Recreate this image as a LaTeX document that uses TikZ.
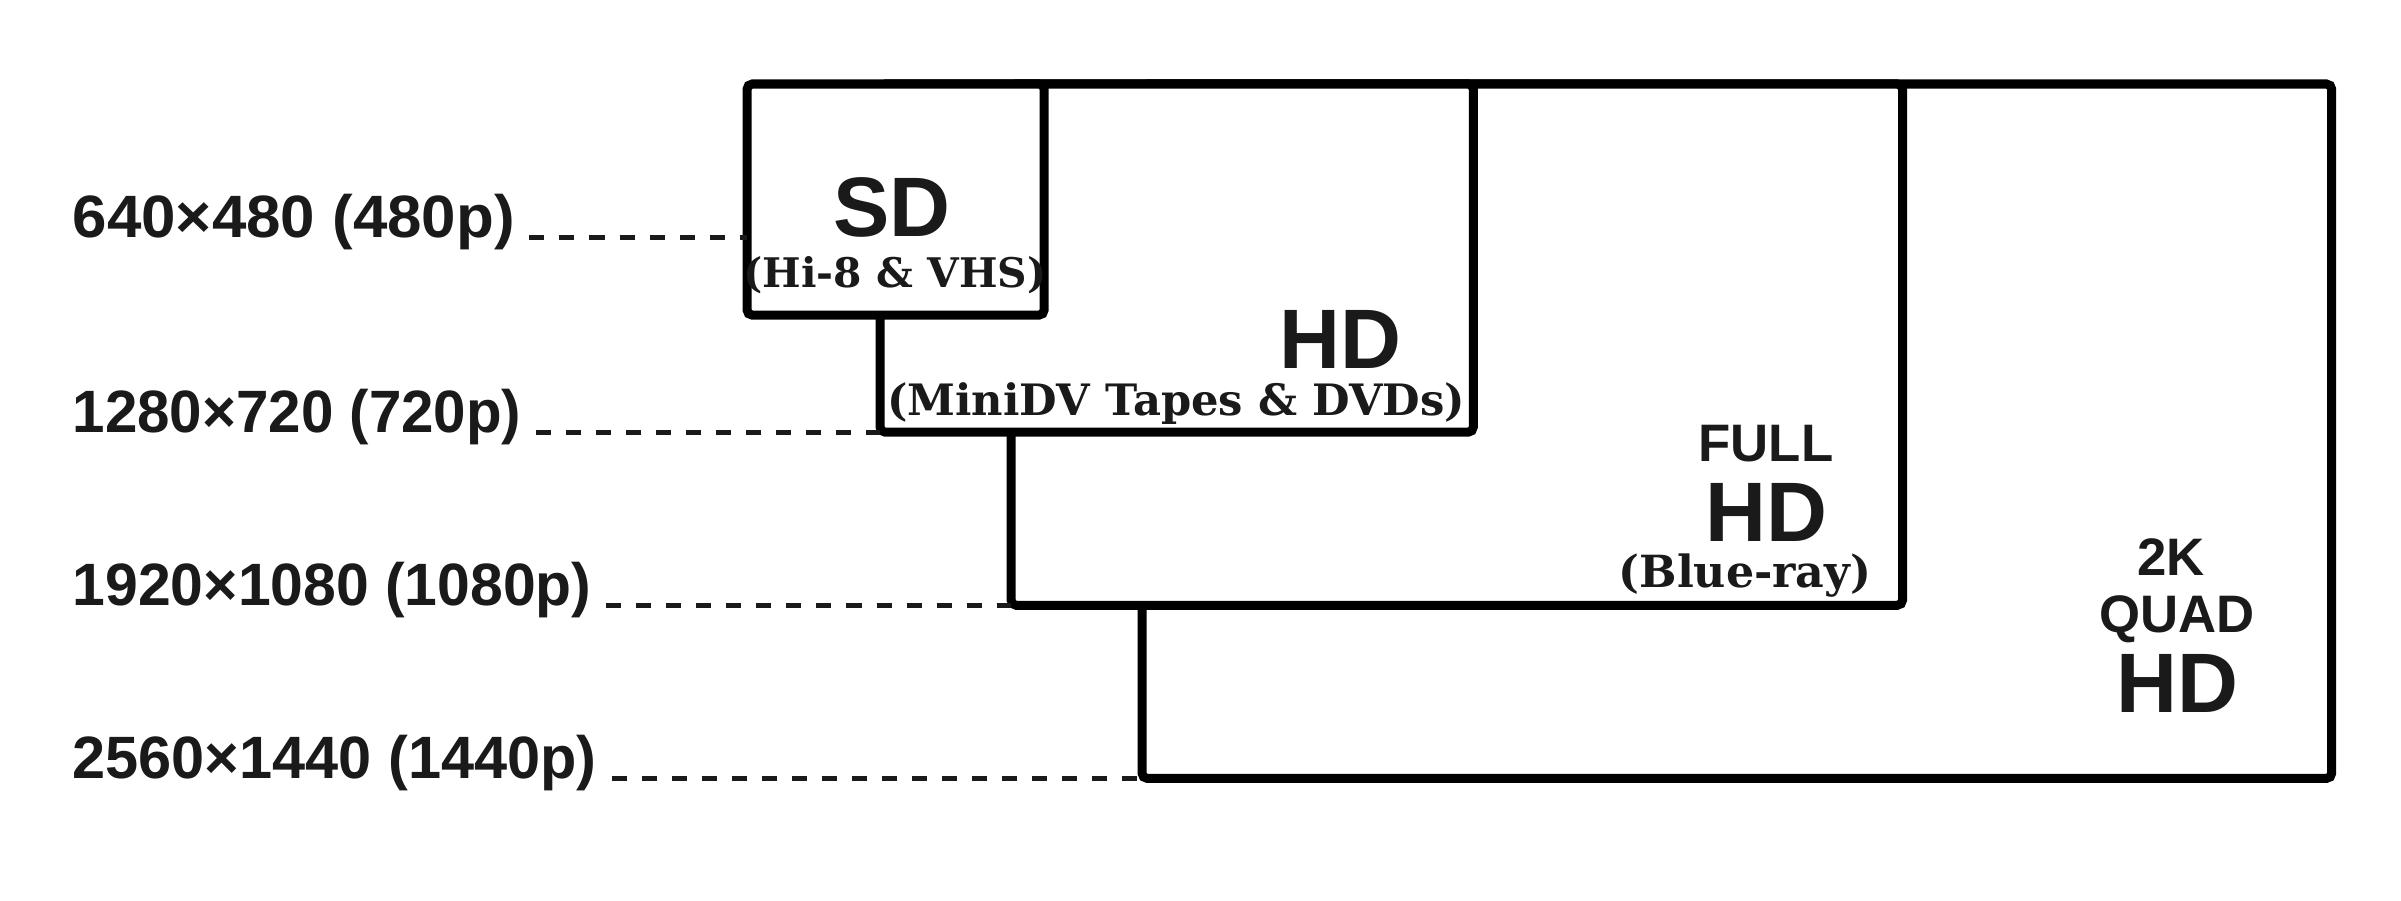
\documentclass[tikz,border=0pt]{standalone}
\usepackage{fontspec}
\newfontfamily\hdfont{Liberation Sans}
\newfontfamily\subfont{DejaVu Serif}
\definecolor{ink}{HTML}{1A1A1A}
\tikzset{
  res/.style={draw=black, line width=0.09cm, fill=white, inner sep=0pt, outer sep=0pt, anchor=north west, rounded corners=1.5pt},
  lab/.style={anchor=base west, inner sep=0pt, text=ink, font=\hdfont\bfseries\fontsize{17pt}{20pt}\selectfont},
  big/.style={anchor=base, inner sep=0pt, text=ink, font=\hdfont\bfseries\fontsize{24pt}{28pt}\selectfont},
  mid/.style={anchor=base, inner sep=0pt, text=ink, font=\hdfont\bfseries\fontsize{15pt}{18pt}\selectfont},
  sub/.style={anchor=base, inner sep=0pt, text=ink, font=\subfont\bfseries\fontsize{#1}{14pt}\selectfont},
  sub/.default=12pt,
  dashline/.style={draw=ink, line width=0.05cm, dash pattern=on 0.15cm off 0.15cm}
}
\begin{document}
\begin{tikzpicture}[x=0.01cm,y=-0.01cm]
\useasboundingbox (0,0) rectangle (2401,900);
% resolution boxes, largest first so smaller ones hide inner edges
\node[res, minimum width=11.89cm, minimum height=6.94cm] (qhd) at (1142,84) {};
\node[res, minimum width=8.91cm, minimum height=5.21cm] (fhd) at (1011,84) {};
\node[res, minimum width=5.93cm, minimum height=3.48cm] (hd) at (880,84) {};
\node[res, minimum width=2.97cm, minimum height=2.31cm] (sd) at (747,84) {};
% box titles
\node[big] (sdt) at (892,236) {SD};
\node[sub=11.6pt] (sds) at (895,287) {(Hi-8 \& VHS)};
\node[big] (hdt) at (1340,368) {HD};
\node[sub=12.3pt] (hds) at (1176,415) {(MiniDV Tapes \& DVDs)};
\node[mid] (fhdf) at (1766,461) {FULL};
\node[big] (fhdt) at (1766,541) {HD};
\node[sub=12.6pt] (fhds) at (1745,587) {(Blue-ray)};
\node[mid] (qk) at (2171,575) {2K};
\node[mid] (qq) at (2177,632) {QUAD};
\node[big] (qt) at (2177,712) {HD};
% left labels
\node[lab] (l1) at (72,237) {\scalebox{1.035}[1]{640×480 (480p)}};
\node[lab] (l2) at (72,432) {\scalebox{0.975}[1]{1280×720 (720p)}};
\node[lab] (l3) at (72,605) {\scalebox{0.985}[1]{1920×1080 (1080p)}};
\node[lab] (l4) at (72,778) {\scalebox{0.995}[1]{2560×1440 (1440p)}};
% dashed leaders
\draw[dashline] ([xshift=0.14cm]l1.base east) -- (l1.base east -| sd.west);
\draw[dashline] ([xshift=0.14cm]l2.base east) -- (l2.base east -| hd.west);
\draw[dashline] ([xshift=0.14cm]l3.base east) -- (l3.base east -| fhd.west);
\draw[dashline] ([xshift=0.14cm]l4.base east) -- (l4.base east -| qhd.west);
\end{tikzpicture}
\end{document}
